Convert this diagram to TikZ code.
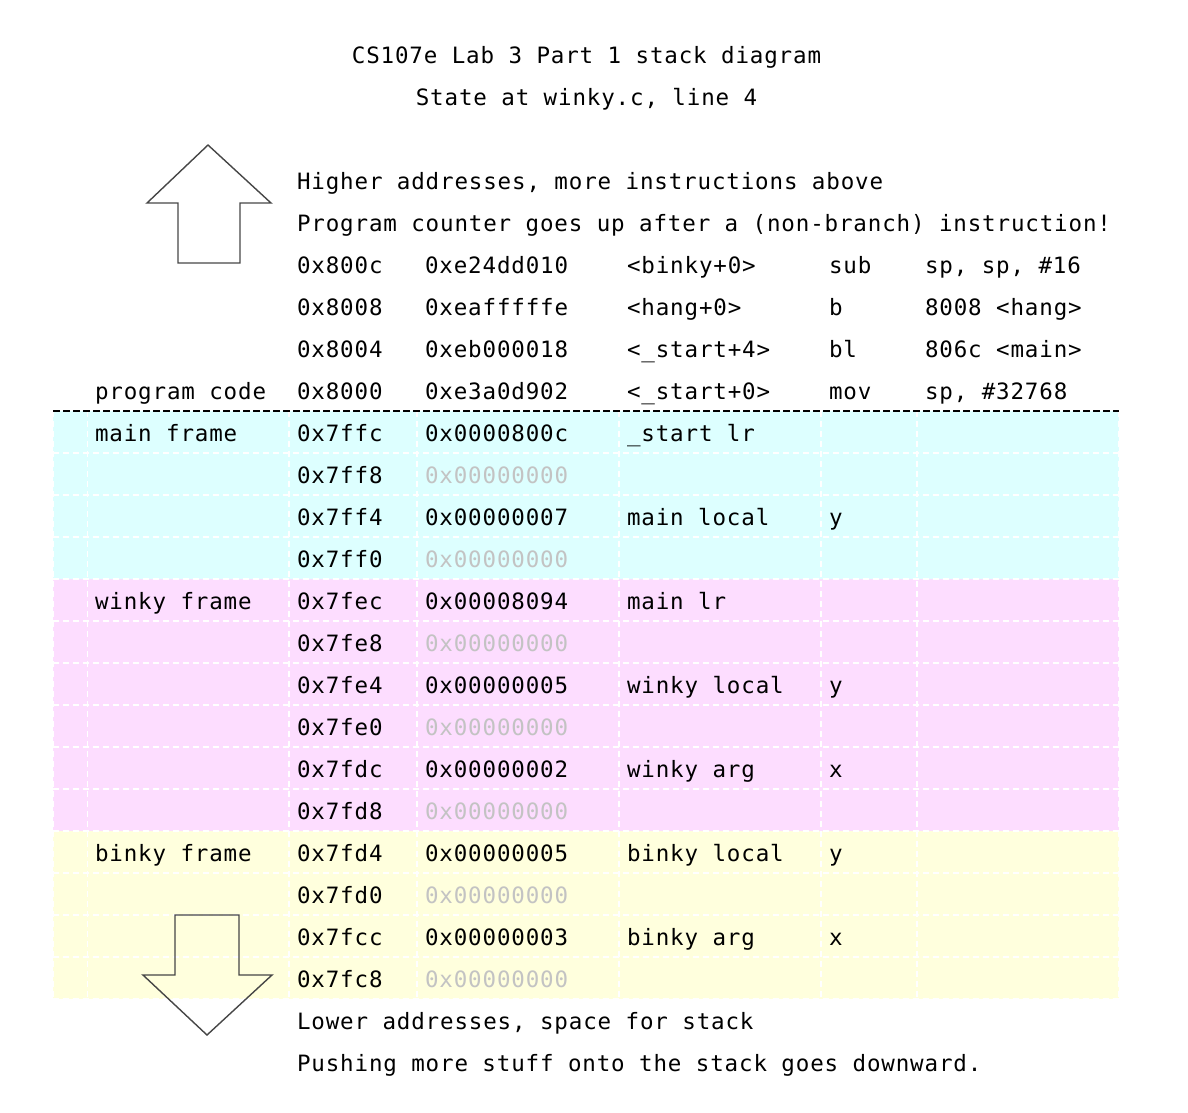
\documentclass[tikz,border=0pt]{standalone}
\usepackage{fontspec}
\newfontfamily\mono[LetterSpace=3.8]{DejaVu Sans Mono}
\definecolor{maincol}{RGB}{221,255,255}
\definecolor{winkycol}{RGB}{253,221,255}
\definecolor{binkycol}{RGB}{255,255,221}
\definecolor{zerogray}{RGB}{195,195,195}
\definecolor{arrowgray}{RGB}{70,70,70}
\begin{document}
\begin{tikzpicture}[x=1pt,y=-1pt,
  txt/.style={anchor=base west, inner sep=0pt, outer sep=0pt, font=\mono\fontsize{22.5pt}{27pt}\selectfont},
  ttl/.style={txt, anchor=base},
  zero/.style={txt, text=zerogray},
  gridline/.style={white, line width=1.6pt, dash pattern=on 6pt off 4pt},
  topline/.style={black, line width=1.8pt, dash pattern=on 6.5pt off 3.5pt},
  bigarrow/.style={draw=arrowgray, line width=1.4pt, line join=miter}]
\useasboundingbox (0,0) rectangle (1188,1112);
% frame bands
\fill[maincol]  (53,411) rectangle (1119,579);
\fill[winkycol] (53,579) rectangle (1119,831);
\fill[binkycol] (53,831) rectangle (1119,999);
% white dashed cell borders
\foreach \y in {453,495,...,999} \draw[gridline] (53,\y) -- (1119,\y);
\foreach \x in {53,87.5,289,417,619,821,917,1119} \draw[gridline] (\x,411) -- (\x,999);
\draw[topline] (53,411) -- (1119,411);
% big arrows
\draw[bigarrow] (208,145) -- (271,203) -- (240,203) -- (240,263) -- (178,263) -- (178,203) -- (147,203) -- cycle;
\draw[bigarrow] (175,915) -- (239,915) -- (239,975) -- (272,975) -- (207,1035) -- (143,975) -- (175,975) -- cycle;
% titles
\node[ttl] (t1) at (586.5,63) {CS107e Lab 3 Part 1 stack diagram};
\node[ttl] (t2) at (586.5,105) {State at winky.c, line 4};
\node[txt] (hi1) at (297,189) {Higher addresses, more instructions above};
\node[txt] (hi2) at (297,231) {Program counter goes up after a (non-branch) instruction!};
% program code
\node[txt] (a5) at (297,273) {0x800c};
\node[txt] (b5) at (425,273) {0xe24dd010};
\node[txt] (c5) at (627,273) {<binky+0>};
\node[txt] (d5) at (829,273) {sub};
\node[txt] (e5) at (925,273) {sp, sp, \#16};
\node[txt] (a6) at (297,315) {0x8008};
\node[txt] (b6) at (425,315) {0xeafffffe};
\node[txt] (c6) at (627,315) {<hang+0>};
\node[txt] (d6) at (829,315) {b};
\node[txt] (e6) at (925,315) {8008 <hang>};
\node[txt] (a7) at (297,357) {0x8004};
\node[txt] (b7) at (425,357) {0xeb000018};
\node[txt] (c7) at (627,357) {<\_start+4>};
\node[txt] (d7) at (829,357) {bl};
\node[txt] (e7) at (925,357) {806c <main>};
\node[txt] (l8) at (95,399) {program code};
\node[txt] (a8) at (297,399) {0x8000};
\node[txt] (b8) at (425,399) {0xe3a0d902};
\node[txt] (c8) at (627,399) {<\_start+0>};
\node[txt] (d8) at (829,399) {mov};
\node[txt] (e8) at (925,399) {sp, \#32768};
% main frame
\node[txt] (l9) at (95,441) {main frame};
\node[txt] (a9) at (297,441) {0x7ffc};
\node[txt] (b9) at (425,441) {0x0000800c};
\node[txt] (c9) at (627,441) {\_start lr};
\node[txt] (a10) at (297,483) {0x7ff8};
\node[zero] (b10) at (425,483) {0x00000000};
\node[txt] (a11) at (297,525) {0x7ff4};
\node[txt] (b11) at (425,525) {0x00000007};
\node[txt] (c11) at (627,525) {main local};
\node[txt] (d11) at (829,525) {y};
\node[txt] (a12) at (297,567) {0x7ff0};
\node[zero] (b12) at (425,567) {0x00000000};
% winky frame
\node[txt] (l13) at (95,609) {winky frame};
\node[txt] (a13) at (297,609) {0x7fec};
\node[txt] (b13) at (425,609) {0x00008094};
\node[txt] (c13) at (627,609) {main lr};
\node[txt] (a14) at (297,651) {0x7fe8};
\node[zero] (b14) at (425,651) {0x00000000};
\node[txt] (a15) at (297,693) {0x7fe4};
\node[txt] (b15) at (425,693) {0x00000005};
\node[txt] (c15) at (627,693) {winky local};
\node[txt] (d15) at (829,693) {y};
\node[txt] (a16) at (297,735) {0x7fe0};
\node[zero] (b16) at (425,735) {0x00000000};
\node[txt] (a17) at (297,777) {0x7fdc};
\node[txt] (b17) at (425,777) {0x00000002};
\node[txt] (c17) at (627,777) {winky arg};
\node[txt] (d17) at (829,777) {x};
\node[txt] (a18) at (297,819) {0x7fd8};
\node[zero] (b18) at (425,819) {0x00000000};
% binky frame
\node[txt] (l19) at (95,861) {binky frame};
\node[txt] (a19) at (297,861) {0x7fd4};
\node[txt] (b19) at (425,861) {0x00000005};
\node[txt] (c19) at (627,861) {binky local};
\node[txt] (d19) at (829,861) {y};
\node[txt] (a20) at (297,903) {0x7fd0};
\node[zero] (b20) at (425,903) {0x00000000};
\node[txt] (a21) at (297,945) {0x7fcc};
\node[txt] (b21) at (425,945) {0x00000003};
\node[txt] (c21) at (627,945) {binky arg};
\node[txt] (d21) at (829,945) {x};
\node[txt] (a22) at (297,987) {0x7fc8};
\node[zero] (b22) at (425,987) {0x00000000};
% bottom notes
\node[txt] (lo1) at (297,1029) {Lower addresses, space for stack};
\node[txt] (lo2) at (297,1071) {Pushing more stuff onto the stack goes downward.};
\end{tikzpicture}
\end{document}
